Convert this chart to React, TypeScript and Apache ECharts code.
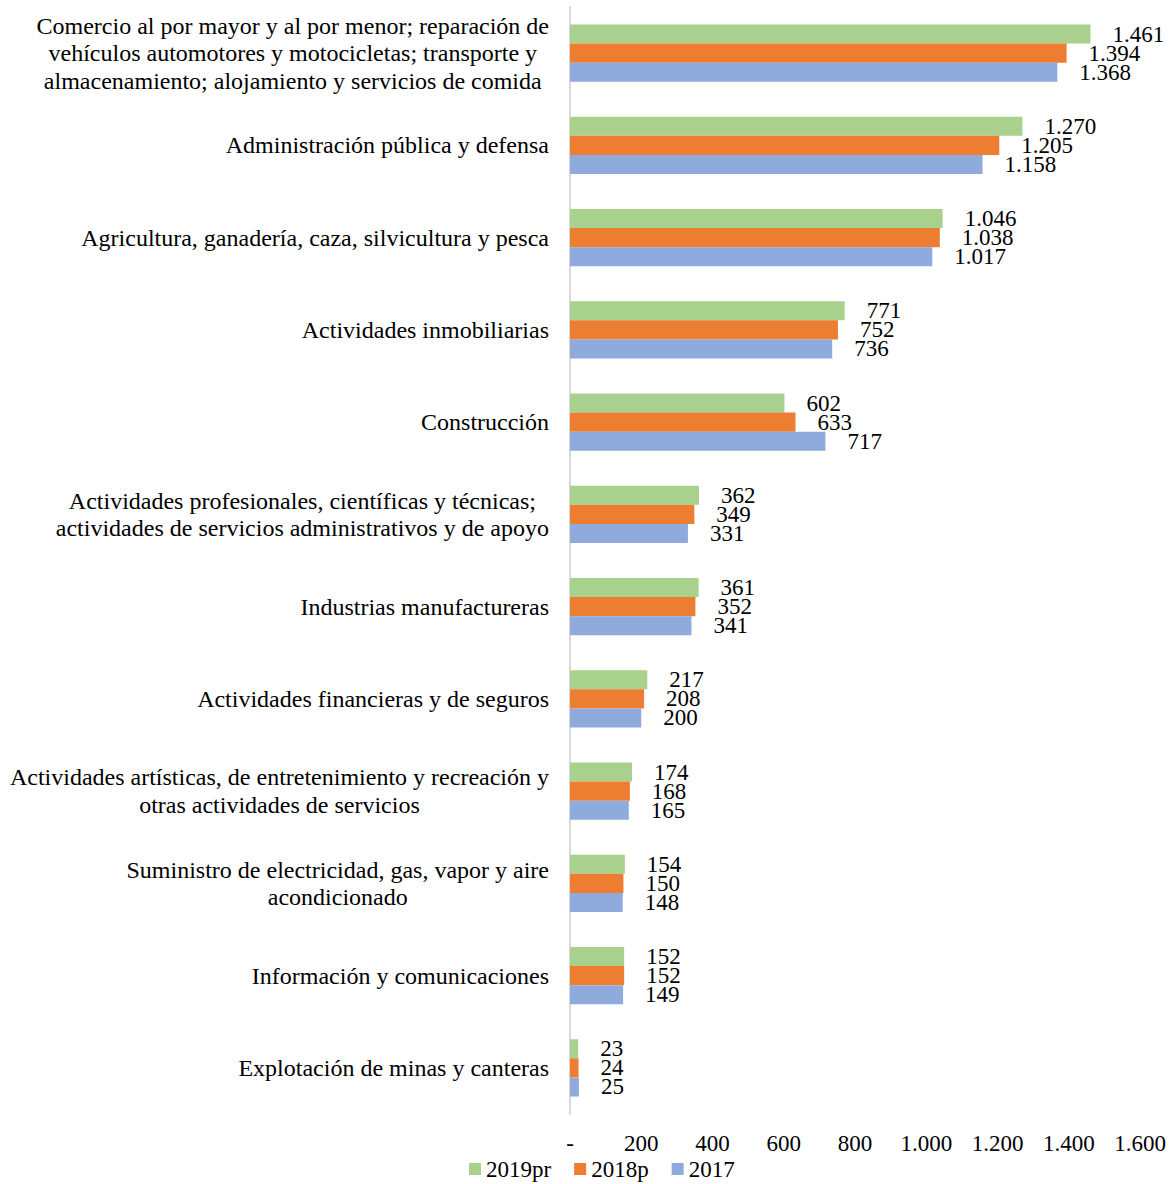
import React, { useEffect, useRef } from "react";
import * as echarts from "echarts";

const categories = [
  "Comercio al por mayor y al por menor; reparación de\nvehículos automotores y motocicletas; transporte y\nalmacenamiento; alojamiento y servicios de comida",
  "Administración pública y defensa",
  "Agricultura, ganadería, caza, silvicultura y pesca",
  "Actividades inmobiliarias",
  "Construcción",
  "Actividades profesionales, científicas y técnicas;\nactividades de servicios administrativos y de apoyo",
  "Industrias manufactureras",
  "Actividades financieras y de seguros",
  "Actividades artísticas, de entretenimiento y recreación y\notras actividades de servicios",
  "Suministro de electricidad, gas, vapor y aire\nacondicionado",
  "Información y comunicaciones",
  "Explotación de minas y canteras",
];

const s2019pr = [1461, 1270, 1046, 771, 602, 362, 361, 217, 174, 154, 152, 23];
const s2018p = [1394, 1205, 1038, 752, 633, 349, 352, 208, 168, 150, 152, 24];
const s2017 = [1368, 1158, 1017, 736, 717, 331, 341, 200, 165, 148, 149, 25];

const seriesNames = ["2019pr", "2018p", "2017"];
const xTicks = { min: 0, max: 1600, interval: 200 };

const FONT = "'Liberation Serif', 'Times New Roman', serif";
const FS = 23;
const FS_CAT = 24;

function fmt(v: number): string {
  if (v === 0) return "-";
  return String(Math.round(v)).replace(/\B(?=(\d{3})+(?!\d))/g, ".");
}

export default function App() {
  const ref = useRef<HTMLDivElement>(null);
  useEffect(() => {
    if (!ref.current) return;
    const chart = echarts.init(ref.current, undefined, { renderer: "svg" });
    const colors = ["#A9D18E", "#ED7D31", "#8FAADC"];
    const data = [s2019pr, s2018p, s2017];
    chart.setOption({
      animation: false,
      textStyle: { fontFamily: FONT },
      grid: { left: 570, right: 32, top: 7, bottom: 70, containLabel: false },
      legend: {
        top: 1156,
        left: 469,
        padding: 0,
        itemWidth: 12,
        itemHeight: 12,
        itemGap: 23,
        icon: "rect",
        textStyle: { fontFamily: FONT, fontSize: FS, color: "#000", lineHeight: 26 },
        data: seriesNames,
      },
      xAxis: {
        type: "value",
        min: xTicks.min,
        max: xTicks.max,
        interval: xTicks.interval,
        axisLine: { show: false },
        axisTick: { show: false },
        splitLine: { show: false },
        axisLabel: {
          formatter: (v: number) => fmt(v),
          fontFamily: FONT,
          fontSize: FS,
          color: "#000",
          margin: 18,
        },
      },
      yAxis: {
        type: "category",
        inverse: true,
        data: categories,
        axisTick: { show: false },
        axisLine: { show: true, lineStyle: { color: "#D9D9D9", width: 2 } },
        axisLabel: {
          margin: 21,
          align: "right",
          formatter: (v: string) =>
            v
              .split("\n")
              .map((l) => "{c|" + l + "}")
              .join("\n"),
          rich: {
            c: {
              align: "center",
              fontFamily: FONT,
              fontSize: FS_CAT,
              color: "#000",
              lineHeight: 27.5,
            },
          },
        },
      },
      series: seriesNames.map((name, i) => ({
        name,
        type: "bar",
        data: data[i],
        barGap: "0%",
        barCategoryGap: "38%",
        itemStyle: { color: colors[i] },
        label: {
          show: true,
          position: "right",
          distance: 22,
          formatter: (p: any) => fmt(p.value),
          fontFamily: FONT,
          fontSize: FS,
          color: "#000",
        },
      })),
    });
    return () => chart.dispose();
  }, []);
  return (
    <div
      ref={ref}
      style={{ position: "absolute", left: 0, top: 0, width: 1172, height: 1184 }}
    />
  );
}
